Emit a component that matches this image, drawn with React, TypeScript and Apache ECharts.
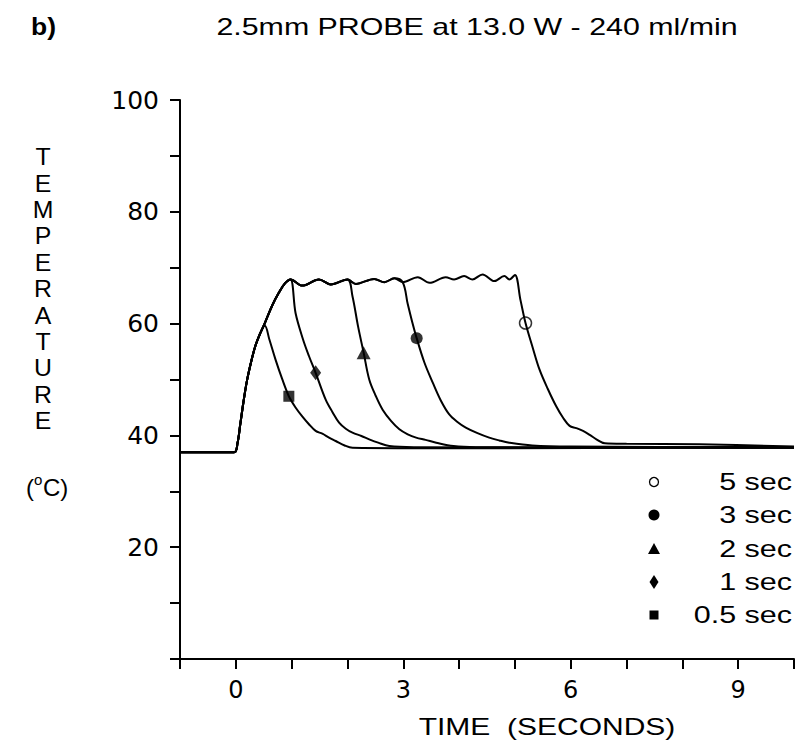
import React, { useEffect, useRef } from 'react';
import * as echarts from 'echarts';

type P = [number, number];

// ---- axis ranges and tick labels ----
const X_MIN = -1;
const X_MAX = 10;
const Y_MIN = 0;
const Y_MAX = 100;
const X_TICK_LABELS = [0, 3, 6, 9];
const Y_TICK_LABELS = [20, 40, 60, 80, 100];

// ---- curve pieces: [time (s), temperature (°C)] ----
const RISE: P[] = [
  [-1, 37], [-0.03, 37], [0.03, 38.6], [0.08, 42], [0.14, 46.2], [0.2, 49.8],
  [0.28, 53.4], [0.35, 56], [0.43, 58.1],
];
const PEAK_05: P[] = [[0.52, 59.6]];
const RISE_TOP: P[] = [[0.52, 60.1], [0.65, 63.2], [0.77, 65.5], [0.88, 67.2], [0.98, 67.9]];
const PLATEAU: P[] = [
  [1.19, 66.8], [1.49, 67.9], [1.7, 67.0], [2.0, 67.9], [2.15, 67.1], [2.48, 68.0],
  [2.66, 67.4], [2.84, 68.1], [2.99, 67.4], [3.26, 68.3], [3.47, 67.3], [3.76, 68.3],
  [3.91, 67.9], [4.09, 68.5], [4.24, 67.9], [4.42, 68.8], [4.63, 67.6], [4.81, 68.5],
  [4.9, 67.9], [5.0, 68.7],
];
const DECAY_05: P[] = [
  [0.6, 57.2], [0.71, 53.6], [0.83, 50.1], [0.95, 47.0], [1.07, 45.0], [1.19, 43.4],
  [1.31, 42.0], [1.43, 40.8], [1.55, 40.3], [1.67, 39.6], [1.79, 39.0], [1.95, 38.2],
  [2.09, 37.8], [4, 37.7], [10, 37.8],
];
const DECAY_1: P[] = [
  [1.07, 61.9], [1.2, 57.3], [1.31, 54.2], [1.43, 51.2], [1.61, 46.4], [1.73, 44.2],
  [1.85, 42.3], [1.97, 41.2], [2.09, 40.5], [2.25, 39.9], [2.39, 39.3], [2.55, 38.7],
  [2.75, 38.1], [3.2, 37.9], [10, 37.8],
];
const DECAY_2: P[] = [
  [2.09, 64.9], [2.19, 59.5], [2.29, 54.8], [2.39, 50.0], [2.51, 47.0], [2.63, 44.6],
  [2.78, 42.6], [2.93, 41.1], [3.08, 40.2], [3.23, 39.6], [3.4, 39.2], [3.59, 38.7],
  [3.9, 38.1], [4.3, 37.9], [10, 37.8],
];
const DECAY_3: P[] = [
  [3.08, 63.5], [3.16, 60.3], [3.24, 57.4], [3.38, 53.0], [3.53, 49.4], [3.67, 46.3],
  [3.82, 43.8], [3.97, 42.4], [4.12, 41.4], [4.33, 40.4], [4.54, 39.6], [4.72, 39.1],
  [4.9, 38.7], [5.31, 38.2], [6, 38.0], [10, 37.9],
];
const DECAY_5: P[] = [
  [5.1, 64.2], [5.19, 60.1], [5.31, 56.0], [5.44, 51.8], [5.59, 48.3], [5.74, 45.2],
  [5.86, 43.2], [5.98, 41.7], [6.1, 41.3], [6.22, 40.8], [6.34, 40.1], [6.46, 39.3],
  [6.61, 38.6], [7, 38.5], [8.3, 38.4], [10, 38.0],
];

// ---- series / legend (order as in the legend) ----
const LEGEND_LABELS = ['5 sec', '3 sec', '2 sec', '1 sec', '0.5 sec'];
const DECAYS: P[][] = [DECAY_5, DECAY_3, DECAY_2, DECAY_1, DECAY_05];
const MARK_T = [5.19, 3.24, 2.29, 1.43, 0.95];
const MARK_V = [60.1, 57.4, 54.8, 51.2, 47.0];

const TITLE = '2.5mm PROBE at 13.0 W - 240 ml/min';
const PANEL = 'b)';
const Y_NAME = 'TEMPERATURE';
const X_NAME = 'TIME  (SECONDS)';

const FONT = 'Liberation Sans';
const AXIS_FONT = 'DejaVu Sans';

function curveFor(i: number): P[] {
  const decay = DECAYS[i];
  if (LEGEND_LABELS[i] === '0.5 sec') return [...RISE, ...PEAK_05, ...decay];
  const start = decay[0][0];
  return [...RISE, ...RISE_TOP, ...PLATEAU.filter((p) => p[0] < start), ...decay];
}

const MARK_STYLE: any[] = [
  { symbol: 'circle', symbolSize: 12, itemStyle: { color: 'rgba(255,255,255,0)', borderColor: '#000', borderWidth: 1.5 } },
  { symbol: 'circle', symbolSize: 12, itemStyle: { color: '#000' } },
  { symbol: 'triangle', symbolSize: [14, 13], itemStyle: { color: '#000' } },
  { symbol: 'diamond', symbolSize: [11, 15], itemStyle: { color: '#000' } },
  { symbol: 'rect', symbolSize: [11, 11], itemStyle: { color: '#000' } },
];

function txt(text: string, x: number, y: number, opts: any = {}) {
  const { fontSize = 24, scaleX = 1, align = 'left', fontWeight = 'normal' } = opts;
  return {
    type: 'text',
    x,
    y,
    scaleX,
    silent: true,
    style: {
      text,
      fontFamily: FONT,
      fontSize,
      fontWeight,
      fill: '#000',
      align,
      textAlign: align,
      verticalAlign: 'middle',
      textVerticalAlign: 'middle',
    },
  };
}

export default function App() {
  const ref = useRef<HTMLDivElement>(null);

  useEffect(() => {
    if (!ref.current) return;
    const chart = echarts.init(ref.current, undefined, { renderer: 'svg' });

    const lineSeries = LEGEND_LABELS.map((name, i) => ({
      name,
      type: 'line',
      data: curveFor(i),
      showSymbol: false,
      smooth: 0.35,
      silent: true,
      z: 2,
      lineStyle: { color: '#000', width: 2 },
    }));
    const markSeries = LEGEND_LABELS.map((name, i) => ({
      name: name + ' marker',
      type: 'scatter',
      data: [[MARK_T[i], MARK_V[i]]],
      silent: true,
      z: 3,
      ...MARK_STYLE[i],
    }));

    // legend drawn as graphics
    const legendX = 654;
    const legendTextRight = 792;
    const rowY = [482, 515, 549, 582, 615];
    const legendGraphics: any[] = [];
    LEGEND_LABELS.forEach((label, i) => {
      const cy = rowY[i];
      if (i === 0) {
        legendGraphics.push({ type: 'circle', shape: { cx: legendX, cy, r: 4.5 }, style: { fill: 'none', stroke: '#000', lineWidth: 1.3 } });
      } else if (i === 1) {
        legendGraphics.push({ type: 'circle', shape: { cx: legendX, cy, r: 5.5 }, style: { fill: '#000' } });
      } else if (i === 2) {
        legendGraphics.push({ type: 'polygon', shape: { points: [[legendX, cy - 6], [legendX + 6, cy + 5], [legendX - 6, cy + 5]] }, style: { fill: '#000' } });
      } else if (i === 3) {
        legendGraphics.push({ type: 'polygon', shape: { points: [[legendX, cy - 7], [legendX + 4.5, cy], [legendX, cy + 7], [legendX - 4.5, cy]] }, style: { fill: '#000' } });
      } else {
        legendGraphics.push({ type: 'rect', shape: { x: legendX - 4.5, y: cy - 4.5, width: 9, height: 9 }, style: { fill: '#000' } });
      }
      legendGraphics.push(txt(label, legendTextRight, cy, { fontSize: 24, scaleX: 1.27, align: 'right' }));
    });

    const yLetters = Y_NAME.split('').map((ch, i) => txt(ch, 43, 157 + i * 26.4, { fontSize: 23, align: 'center', scaleX: 1.08 }));

    chart.setOption({
      animation: false,
      backgroundColor: '#fff',
      grid: { left: 180, right: 17, top: 100, bottom: 83, containLabel: false },
      xAxis: {
        type: 'value',
        min: X_MIN,
        max: X_MAX,
        interval: 1,
        splitLine: { show: false },
        axisLine: { show: true, onZero: false, lineStyle: { color: '#000', width: 2 } },
        axisTick: { show: true, inside: false, length: 10, lineStyle: { color: '#000', width: 2 } },
        axisLabel: {
          formatter: (v: number) => (X_TICK_LABELS.includes(v) ? String(v) : ''),
          fontFamily: AXIS_FONT,
          fontSize: 24,
          color: '#000',
          margin: 19,
        },
      },
      yAxis: {
        type: 'value',
        min: Y_MIN,
        max: Y_MAX,
        interval: 10,
        splitLine: { show: false },
        axisLine: { show: true, onZero: false, lineStyle: { color: '#000', width: 2 } },
        axisTick: { show: true, inside: false, length: 10, lineStyle: { color: '#000', width: 2 } },
        axisLabel: {
          formatter: (v: number) => (Y_TICK_LABELS.includes(v) ? String(v) : ''),
          fontFamily: AXIS_FONT,
          fontSize: 25,
          color: '#000',
          margin: 21,
        },
      },
      series: [...lineSeries, ...markSeries],
      graphic: [
        txt(PANEL, 31, 27, { fontSize: 23, fontWeight: 'bold', scaleX: 1.15 }),
        txt(TITLE, 477, 27, { fontSize: 23, align: 'center', scaleX: 1.32 }),
        ...yLetters,
        txt('(', 26, 487, { fontSize: 24 }),
        txt('o', 34, 479, { fontSize: 15 }),
        txt('C)', 43, 487, { fontSize: 24 }),
        txt(X_NAME, 547, 727, { fontSize: 24, align: 'center', scaleX: 1.25 }),
        ...legendGraphics,
      ],
    });

    return () => chart.dispose();
  }, []);

  return (
    <div
      ref={ref}
      style={{ position: 'absolute', left: 0, top: 0, width: 811, height: 742, background: '#fff' }}
    />
  );
}
